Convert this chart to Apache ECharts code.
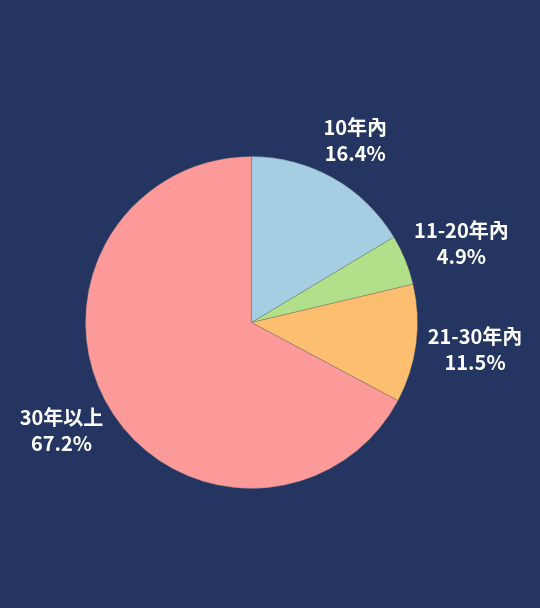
<!DOCTYPE html>
<html>
<head>
<meta charset="utf-8">
<script src="https://cdn.jsdelivr.net/npm/echarts@6/dist/echarts.min.js"></script>
<style>
html,body{margin:0;padding:0;background:#253561;}
#chart{width:540px;height:608px;}
</style>
</head>
<body>
<div id="chart"></div>
<script>
const categories = ['10年內', '11-20年內', '21-30年內', '30年以上'];
const percents = [16.4, 4.9, 11.5, 67.2];
const colors = ['#a6cee3', '#b2df8a', '#fdbf6f', '#fb9a99'];

const FONT = '"Noto Sans CJK TC", "Noto Sans", sans-serif';
const chart = echarts.init(document.getElementById('chart'), null, {renderer: 'canvas'});
chart.setOption({
  backgroundColor: '#253561',
  animation: false,
  series: [{
    type: 'pie',
    center: [251.5, 322.5],
    radius: 166,
    startAngle: 90,
    clockwise: true,
    avoidLabelOverlap: false,
    itemStyle: {borderColor: 'rgba(110,110,110,0.6)', borderWidth: 0.6},
    emphasis: {disabled: true},
    label: {
      show: true,
      position: 'outside',
      color: '#fff',
      fontFamily: FONT,
      fontSize: 20,
      fontWeight: 'bold',
      lineHeight: 26,
      formatter: p => '{t|' + p.name + '}\n{t|' + p.value.toFixed(1) + '%}',
      rich: {
        t: {align: 'center', color: '#fff', fontFamily: FONT, fontSize: 20, fontWeight: 'bold', lineHeight: 26}
      }
    },
    labelLine: {show: false, length: 43, length2: -36},
    data: categories.map((c, i) => ({name: c, value: percents[i], itemStyle: {color: colors[i]}}))
  }]
});
</script>
</body>
</html>
